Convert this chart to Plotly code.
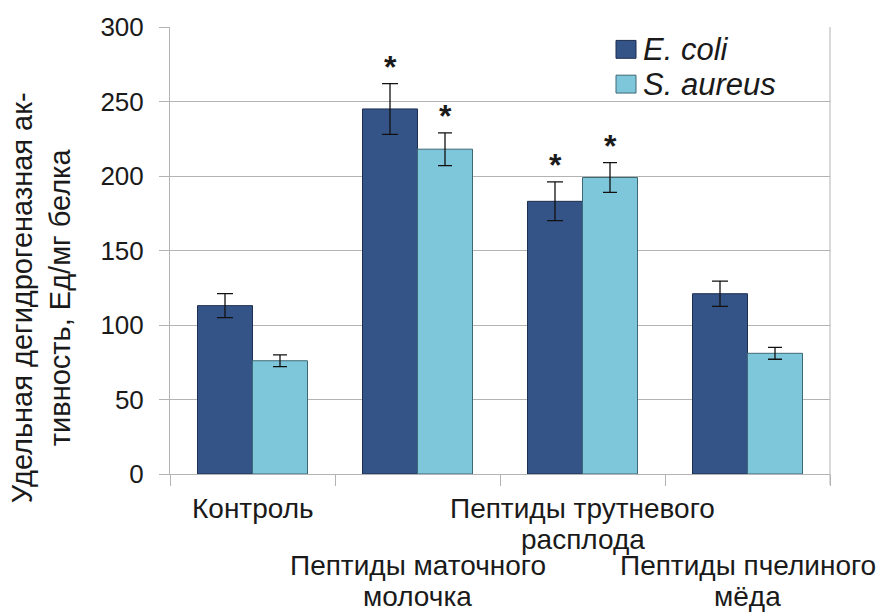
import plotly.graph_objects as go

# Groups on the x axis and their (staggered) label lines
categories = [
    "Контроль",
    "Пептиды маточного молочка",
    "Пептиды трутневого расплода",
    "Пептиды пчелиного мёда",
]
label_lines = [
    ["Контроль"],
    ["Пептиды маточного", "молочка"],
    ["Пептиды трутневого", "расплода"],
    ["Пептиды пчелиного", "мёда"],
]

# Specific dehydrogenase activity, U/mg protein (mean ± error)
ecoli = [113, 245, 183, 121]
ecoli_err = [8, 17, 13, 8.5]
saureus = [76, 218, 199, 81]
saureus_err = [4, 11, 10, 4]

# Significance markers
ecoli_sig = [False, True, True, False]
saureus_sig = [False, True, True, False]

y_ticks = [0, 50, 100, 150, 200, 250, 300]

# ---- styling -------------------------------------------------------------
W, H = 892, 613
ML, MR, MT, MB = 170, 62, 24, 139
PW, PH = W - ML - MR, H - MT - MB
FONT = "Liberation Sans, Arial, sans-serif"
TXT = "#1a1a1a"
GRID = "#b3b3b3"
C_ECOLI, L_ECOLI = "#345387", "#1d2f50"
C_SAUR, L_SAUR = "#7ec6da", "#3f6876"


def px_x(px):
    return (px - ML) / PW


def px_y(py):
    return (H - MB - py) / PH


fig = go.Figure()
fig.add_trace(go.Bar(
    x=categories, y=ecoli, name="E. coli",
    marker=dict(color=C_ECOLI, line=dict(color=L_ECOLI, width=1)),
    error_y=dict(type="data", array=ecoli_err, color="#111111",
                 thickness=1.3, width=8),
))
fig.add_trace(go.Bar(
    x=categories, y=saureus, name="S. aureus",
    marker=dict(color=C_SAUR, line=dict(color=L_SAUR, width=1)),
    error_y=dict(type="data", array=saureus_err, color="#111111",
                 thickness=1.3, width=7),
))

annotations = []

# Asterisks above the significant bars
for vals, errs, sig, shift in ((ecoli, ecoli_err, ecoli_sig, -27.5),
                               (saureus, saureus_err, saureus_sig, 27.5)):
    for cat, v, e, s in zip(categories, vals, errs, sig):
        if s:
            annotations.append(dict(
                x=cat, y=v + e, xref="x", yref="y", text="<b>*</b>",
                showarrow=False, xshift=shift, yanchor="bottom", yshift=-3,
                font=dict(family=FONT, size=32, color=TXT),
            ))

# Staggered category labels under the axis
row_mid = {0: [509], 1: [566, 597], 2: [509, 540], 3: [566, 597]}
for i, (cat, lines) in enumerate(zip(categories, label_lines)):
    for line, py in zip(lines, row_mid[i]):
        annotations.append(dict(
            x=cat, y=px_y(py), xref="x", yref="paper", text=line,
            showarrow=False, xanchor="center", yanchor="middle",
            font=dict(family=FONT, size=28, color=TXT),
        ))

# Y axis title (two centred lines, rotated)
annotations.append(dict(
    x=px_x(41), y=px_y(297), xref="paper", yref="paper",
    text="Удельная дегидрогеназная ак-<br>тивность, Ед/мг белка",
    showarrow=False, textangle=-90, align="center",
    xanchor="center", yanchor="middle",
    font=dict(family=FONT, size=29, color=TXT),
))

# Legend entries
shapes = []
for name, color, line, py in (("E. coli", C_ECOLI, L_ECOLI, 46.5),
                              ("S. aureus", C_SAUR, L_SAUR, 81.5)):
    shapes.append(dict(
        type="rect", xref="paper", yref="paper",
        x0=px_x(616), x1=px_x(636), y0=px_y(py + 9), y1=px_y(py - 9),
        fillcolor=color, line=dict(color=line, width=1),
    ))
    annotations.append(dict(
        x=px_x(641), y=px_y(py), xref="paper", yref="paper",
        text=f"<i>{name}</i>", showarrow=False,
        xanchor="left", yanchor="middle",
        font=dict(family=FONT, size=31, color=TXT),
    ))

# Right border of the plot area
shapes.append(dict(
    type="line", xref="paper", yref="paper",
    x0=1, x1=1, y0=px_y(485), y1=1,
    line=dict(color=GRID, width=1),
))

fig.update_layout(
    width=W, height=H,
    margin=dict(l=ML, r=MR, t=MT, b=MB, pad=0),
    paper_bgcolor="white", plot_bgcolor="white",
    barmode="group", bargap=1 / 3, bargroupgap=0,
    showlegend=False,
    font=dict(family=FONT, color=TXT),
    annotations=annotations, shapes=shapes,
    xaxis=dict(
        type="category", range=[-0.5, len(categories) - 0.5],
        showticklabels=False,
        tickson="boundaries", ticks="outside", ticklen=11,
        tickcolor=GRID, showline=True, linecolor=GRID, linewidth=1,
        showgrid=False, zeroline=False,
    ),
    yaxis=dict(
        range=[0, 300], tickvals=y_ticks, ticks="outside", ticklen=10,
        tickcolor=GRID, showline=True, linecolor=GRID, linewidth=1,
        showgrid=True, gridcolor=GRID, gridwidth=1, zeroline=False,
        ticklabelstandoff=10,
        tickfont=dict(family=FONT, size=26, color=TXT),
    ),
)

fig.write_html("out.html")
